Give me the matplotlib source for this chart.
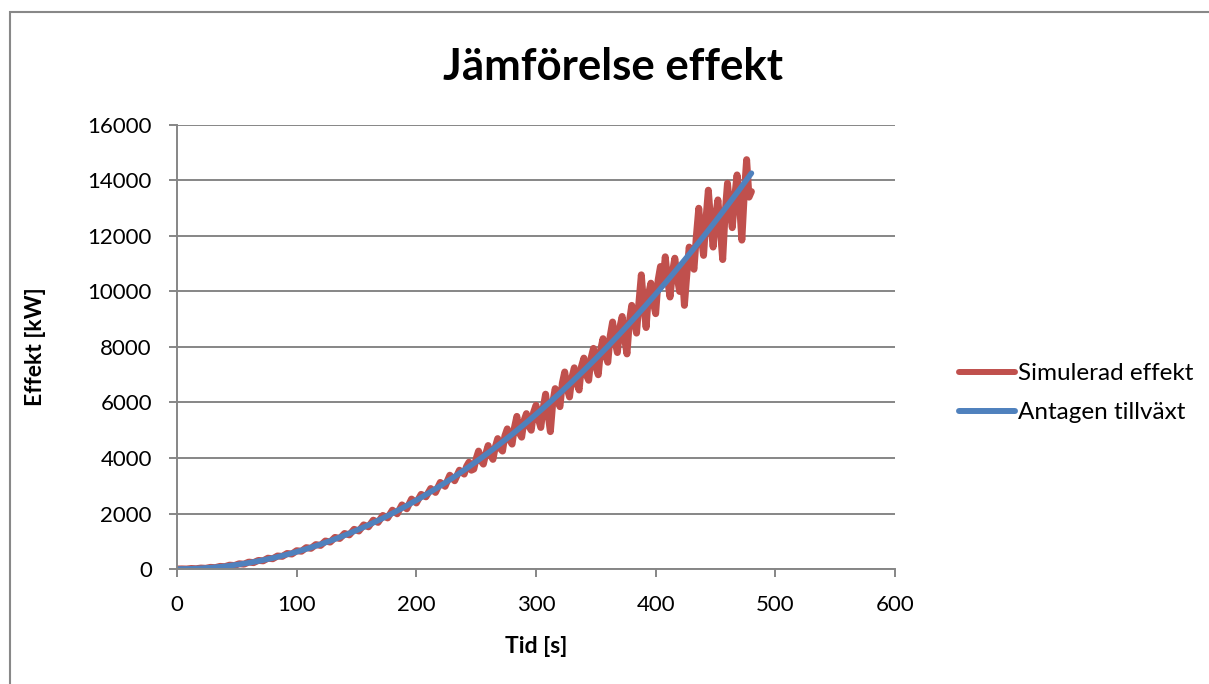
import matplotlib
matplotlib.use("Agg")
import matplotlib.pyplot as plt
from matplotlib.patches import Rectangle

plt.rcParams['font.family'] = ['Lato', 'DejaVu Sans']

# Antagen tillväxt, read every 10 s
tid_antagen = [0, 10, 20, 30, 40, 50, 60, 70, 80, 90, 100, 110, 120, 130, 140, 150,
               160, 170, 180, 190, 200, 210, 220, 230, 240, 250, 260, 270, 280, 290,
               300, 310, 320, 330, 340, 350, 360, 370, 380, 390, 400, 410, 420, 430,
               440, 450, 460, 470, 480]
effekt_antagen = [0, 6, 25, 56, 99, 155, 223, 303, 396, 501, 619, 749, 891, 1046, 1213,
                  1393, 1585, 1789, 2006, 2235, 2476, 2730, 2996, 3275, 3565, 3869, 4184,
                  4513, 4853, 5206, 5571, 5949, 6339, 6741, 7156, 7583, 8022, 8474, 8938,
                  9415, 9904, 10405, 10919, 11445, 11984, 12535, 13098, 13674, 14262]

# Simulerad effekt, read every 4 s up to 236 s, then every 2 s
tid_sim = list(range(0, 240, 4)) + list(range(240, 481, 2))
effekt_sim = [0, 5, 0, 20, 10, 35, 25, 60, 50, 95, 85, 140, 125, 190, 175, 250, 230, 310,
              295, 390, 370, 470, 455, 560, 540, 660, 640, 770, 745, 880, 850, 1010, 970,
              1140, 1100, 1280, 1230, 1430, 1370, 1590, 1520, 1760, 1680, 1930, 1840, 2120,
              1990, 2310, 2170, 2520,
              2380, 2690, 2600, 2900, 2760, 3120, 2980, 3380, 3180, 3560,
              3420, 3700, 3850, 3560, 3600, 3980, 4250, 3900, 3780, 4150,
              4450, 4100, 3950, 4400, 4700, 4350, 4250, 4800, 5050, 4650,
              4500, 5100, 5500, 4900, 4750, 5350, 5600, 5150, 5000, 5650,
              5900, 5400, 5100, 5800, 6300, 5600, 4950, 6000, 6500, 6100,
              5850, 6700, 7100, 6500, 6200, 6900, 7250, 6700, 6450, 7300,
              7600, 7000, 6800, 7600, 7950, 7300, 7000, 7900, 8300, 7700,
              7450, 8400, 8900, 8200, 7800, 8700, 9100, 8300, 7750, 8900,
              9500, 9000, 8500, 9600, 10600, 9500, 8700, 9900, 10300, 9600,
              9200, 10400, 10900, 10300, 11250, 10400, 9800, 10700, 11200, 10500,
              10000, 10900, 9500, 10600, 11600, 11100, 10800, 12000, 13000, 12000,
              11300, 12600, 13650, 12500, 11600, 12700, 13300, 12200, 11150, 12800,
              13900, 13000, 12300, 13400, 14200, 13200, 11850, 13500, 14750, 13400,
              13600]

fig = plt.figure(figsize=(12.09, 6.84), dpi=100)
ax = fig.add_axes([0.1464, 0.1681, 0.5939, 0.6492])

ax.plot(tid_sim, effekt_sim, color='#C0504D', linewidth=5.0, solid_joinstyle='round',
        solid_capstyle='round', label='Simulerad effekt')
ax.plot(tid_antagen, effekt_antagen, color='#4F81BD', linewidth=4.0,
        solid_capstyle='round', label='Antagen tillväxt')

ax.set_xlim(0, 600)
ax.set_ylim(0, 16000)
ax.set_xticks(range(0, 601, 100))
ax.set_yticks(range(0, 16001, 2000))
ax.grid(axis='y', color='#868686', linewidth=1.4)
ax.set_axisbelow(True)
for s in ['top', 'right']:
    ax.spines[s].set_visible(False)
for s in ['left', 'bottom']:
    ax.spines[s].set_color('#868686')
    ax.spines[s].set_linewidth(1.4)
ax.tick_params(axis='both', colors='#868686', labelcolor='black', labelsize=16,
               length=6, width=1.4, direction='out')
ax.tick_params(axis='x', pad=13)
ax.tick_params(axis='y', pad=12)

ax.set_xlabel('Tid [s]', fontsize=16.5, fontweight='bold', labelpad=15)
ax.set_ylabel('Effekt [kW]', fontsize=16.5, fontweight='bold', labelpad=30)

fig.text(0.507, 0.902, 'Jämförelse effekt', ha='center', va='center',
         fontsize=31.5, fontweight='bold')

leg = ax.legend(loc='center left', bbox_to_anchor=(0.775, 0.425),
                bbox_transform=fig.transFigure, frameon=False, fontsize=17.5,
                handlelength=2.3, handletextpad=0.15, labelspacing=0.75)
for line in leg.get_lines():
    line.set_linewidth(4.3)

fig.patches.append(Rectangle((10 / 1209, -0.05), 1.1, 1 - 12 / 684 + 0.05,
                             transform=fig.transFigure, fill=False,
                             edgecolor='#888888', linewidth=1.5))

fig.savefig('out.png', dpi=100)
